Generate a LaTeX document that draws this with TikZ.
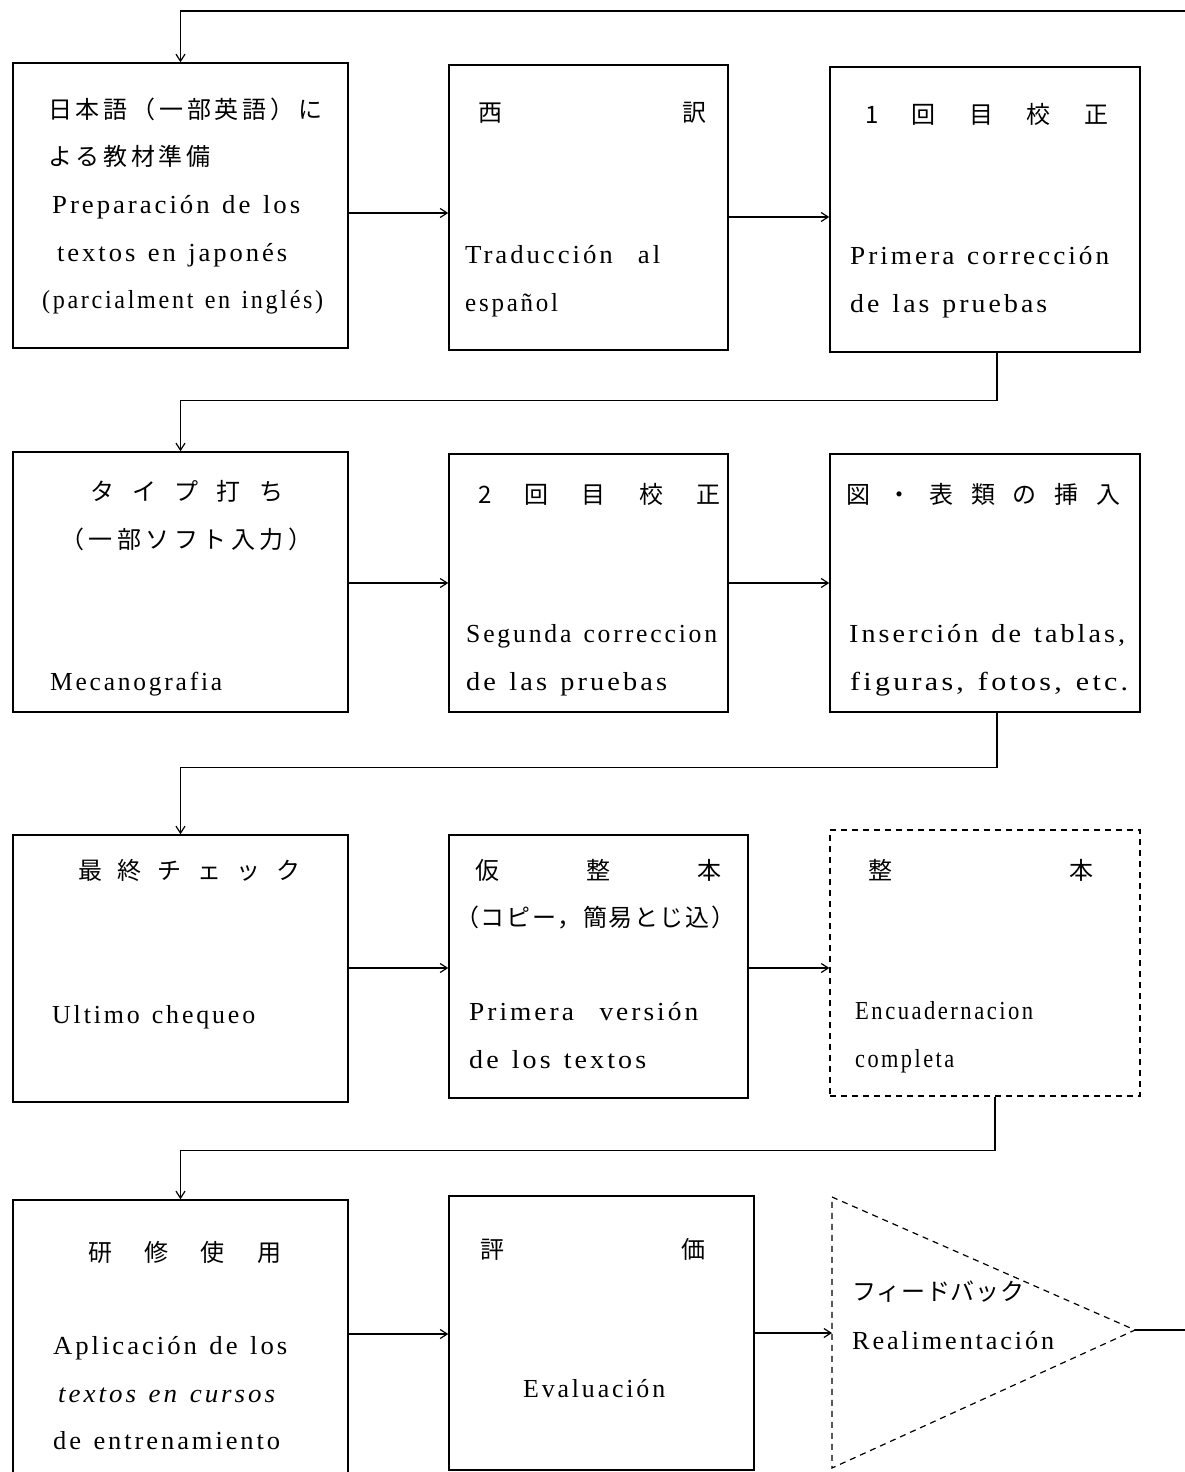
\documentclass[tikz,border=0pt]{standalone}
\usepackage{graphicx}
\usepackage{fontspec}
\setmainfont{Liberation Serif}
\newfontfamily\latf{Liberation Serif}[LetterSpace=11,WordSpace=1.3]
\newfontfamily\jpf{Noto Sans CJK JP}
\usetikzlibrary{arrows.meta}
\newcommand\spr[2]{\makebox[#1][s]{#2}}
\newcommand\fw[2]{\resizebox{#1}{\height}{#2}}
\tikzset{
  box/.style={draw, line width=1.5pt, inner sep=0pt},
  dbox/.style={draw, line width=1.3pt, dash pattern=on 6pt off 5pt, inner sep=0pt},
  arr/.style={line width=1.2pt, -{Straight Barb[length=7pt,width=9pt,line width=1.2pt]}},
  conn/.style={line width=1.2pt},
  jp/.style={font=\jpf\fontsize{24}{24}\selectfont, anchor=west, inner sep=0pt, text height=20pt, text depth=4pt},
  lt/.style={font=\latf\fontsize{26}{26}\selectfont, anchor=west, inner sep=0pt, text height=18pt, text depth=6pt},
}
\begin{document}
\begin{tikzpicture}[x=1pt,y=-1pt]
\useasboundingbox (0,0) rectangle (1185,1472);
\fill[white] (0,0) rectangle (1185,1472);
\clip (0,0) rectangle (1185,1472);

% ---- boxes ----
\node[box, minimum width=335pt, minimum height=285pt] (b1) at (180.5,205.5) {};
\node[box, minimum width=279pt, minimum height=285pt] (b2) at (588.5,207.5) {};
\node[box, minimum width=310pt, minimum height=285pt] (b3) at (985,209.5) {};
\node[box, minimum width=335pt, minimum height=260pt] (b4) at (180.5,582) {};
\node[box, minimum width=279pt, minimum height=258pt] (b5) at (588.5,583) {};
\node[box, minimum width=310pt, minimum height=258pt] (b6) at (985,583) {};
\node[box, minimum width=335pt, minimum height=267pt] (b7) at (180.5,968.5) {};
\node[box, minimum width=299pt, minimum height=263pt] (b8) at (598.5,966.5) {};
\node[dbox, minimum width=310pt, minimum height=266pt] (b9) at (985,963) {};
\node[box, minimum width=335pt, minimum height=284pt] (b10) at (180.5,1342) {};
\node[box, minimum width=305pt, minimum height=274pt] (b11) at (601.5,1333) {};

% triangle (feedback)
\coordinate (tA) at (832,1197);
\coordinate (tB) at (1135,1330);
\coordinate (tC) at (832,1468);
\draw[line width=1.2pt, dash pattern=on 6pt off 5pt] (tA) -- (tB) -- (tC) -- cycle;

% ---- texts ----
\node[jp] (t1a) at (48,110) {\spr{274pt}{日\hfill 本\hfill 語\hfill （\hfill 一\hfill 部\hfill 英\hfill 語\hfill ）\hfill に}};
\node[jp] (t1b) at (48,157) {\spr{162pt}{よ\hfill る\hfill 教\hfill 材\hfill 準\hfill 備}};
\node[lt] (t1c) at (52,207) {\fw{248pt}{Preparación de los}};
\node[lt] (t1d) at (57,255) {\fw{230pt}{textos en japonés}};
\node[lt] (t1e) at (42,302) {\fw{281pt}{(parcialment en inglés)}};

\node[jp] (t2a) at (478,113) {\spr{228pt}{西\hfill 訳}};
\node[lt] (t2b) at (465,257) {\fw{195pt}{Traducción\ \ al}};
\node[lt] (t2c) at (465,305) {\fw{93pt}{español}};

\node[jp] (t3a) at (865,115) {\spr{243pt}{1\hfill 回\hfill 目\hfill 校\hfill 正}};
\node[lt] (t3b) at (850,258) {\fw{259pt}{Primera corrección}};
\node[lt] (t3c) at (850,306) {\fw{197pt}{de las pruebas}};

\node[jp] (t4a) at (90,492) {\spr{193pt}{タ\hfill イ\hfill プ\hfill 打\hfill ち}};
\node[jp] (t4b) at (60,540) {\spr{252pt}{（\hfill 一\hfill 部\hfill ソ\hfill フ\hfill ト\hfill 入\hfill 力\hfill ）}};
\node[lt] (t4c) at (50,684) {\fw{172pt}{Mecanografia}};

\node[jp] (t5a) at (478,495) {\spr{242pt}{2\hfill 回\hfill 目\hfill 校\hfill 正}};
\node[lt] (t5b) at (466,636) {\fw{251pt}{Segunda correccion}};
\node[lt] (t5c) at (466,684) {\fw{201pt}{de las pruebas}};

\node[jp] (t6a) at (846,495) {\spr{274pt}{図\hfill ・\hfill 表\hfill 類\hfill の\hfill 挿\hfill 入}};
\node[lt] (t6b) at (849,636) {\fw{276pt}{Inserción de tablas,}};
\node[lt] (t6c) at (850,684) {\fw{278pt}{figuras, fotos, etc.}};

\node[jp] (t7a) at (78,871) {\spr{222pt}{最\hfill 終\hfill チ\hfill ェ\hfill ッ\hfill ク}};
\node[lt] (t7b) at (52,1017) {\fw{203pt}{Ultimo chequeo}};

\node[jp] (t8a) at (475,871) {\spr{246pt}{仮\hfill 整\hfill 本}};
\node[jp] (t8b) at (455,918) {\spr{280pt}{（\hfill コ\hfill ピ\hfill ー\hfill ，\hfill 簡\hfill 易\hfill と\hfill じ\hfill 込\hfill ）}};
\node[lt] (t8c) at (469,1014) {\fw{229pt}{Primera\ \ versión}};
\node[lt] (t8d) at (469,1062) {\fw{177pt}{de los textos}};

\node[jp] (t9a) at (868,871) {\spr{225pt}{整\hfill 本}};
\node[lt] (t9b) at (855,1013) {\fw{178pt}{Encuadernacion}};
\node[lt] (t9c) at (855,1061) {\fw{99pt}{completa}};

\node[jp] (t10a) at (88,1253) {\spr{193pt}{研\hfill 修\hfill 使\hfill 用}};
\node[lt] (t10b) at (53,1348) {\fw{234pt}{Aplicación de los}};
\node[lt] (t10c) at (58,1396) {\fw{217pt}{\itshape textos en cursos}};
\node[lt] (t10d) at (53,1443) {\fw{227pt}{de entrenamiento}};

\node[jp] (t11a) at (480,1250) {\spr{225pt}{評\hfill 価}};
\node[lt] (t11b) at (523,1391) {\fw{142pt}{Evaluación}};

\node[jp] (t12a) at (852,1292) {\spr{172pt}{フ\hfill ィ\hfill ー\hfill ド\hfill バ\hfill ッ\hfill ク}};
\node[lt] (t12b) at (852,1343) {\fw{202pt}{Realimentación}};

% ---- connectors ----
\coordinate (topR) at (1185,11);
\coordinate (fbR) at (1185,1330);
\draw[arr] (topR) -- (b1.north |- topR) -- (b1.north);

\draw[arr] (b1.east |- 0,213) -- (b2.west |- 0,213);
\draw[arr] (b2.east |- 0,217) -- (b3.west |- 0,217);
\draw[arr] ([xshift=12pt]b3.south) -- ++(0,48) -| (b4.north);

\draw[arr] (b4.east |- 0,583) -- (b5.west |- 0,583);
\draw[arr] (b5.east |- 0,583) -- (b6.west |- 0,583);
\draw[arr] ([xshift=12pt]b6.south) -- ++(0,55) -| (b7.north);

\draw[arr] (b7.east |- 0,968) -- (b8.west |- 0,968);
\draw[arr] (b8.east |- 0,968) -- (b9.west |- 0,968);
\draw[arr] ([xshift=10pt]b9.south) -- ++(0,54) -| (b10.north);

\draw[arr] (b10.east |- 0,1334) -- (b11.west |- 0,1334);
\draw[arr] (b11.east |- 0,1333) -- (tA |- 0,1333);
\draw[conn] (tB) -- (fbR);
\end{tikzpicture}
\end{document}
